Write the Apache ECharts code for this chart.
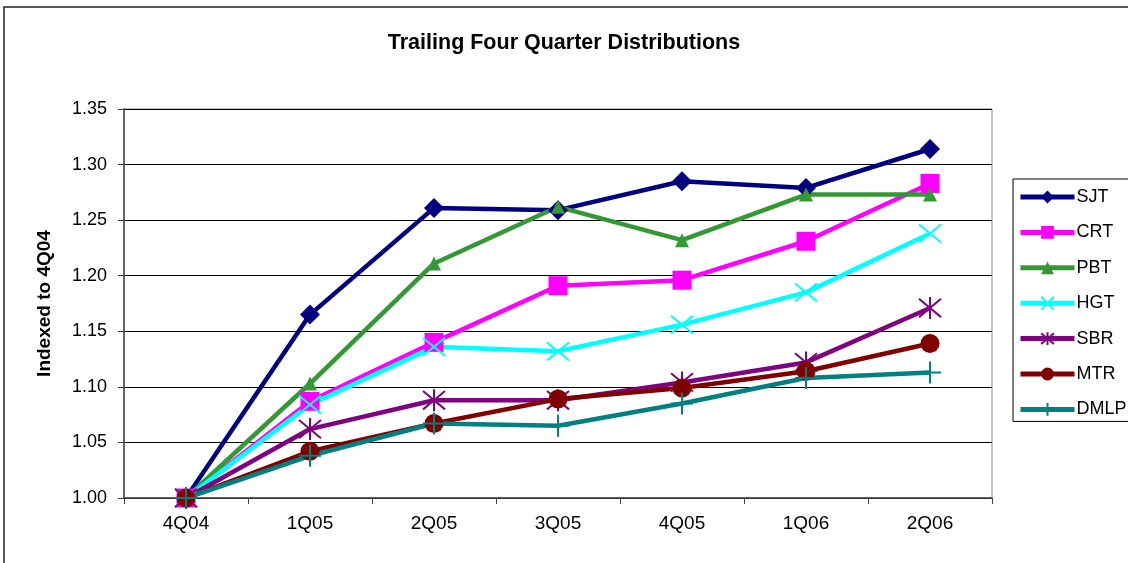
<!DOCTYPE html>
<html>
<head>
<meta charset="utf-8">
<script src="https://cdn.jsdelivr.net/npm/echarts@6/dist/echarts.min.js"></script>
<style>html,body{margin:0;padding:0;background:#fff}#c{width:1128px;height:563px}</style>
</head>
<body>
<div id="c"></div>
<script>
var categories = ['4Q04','1Q05','2Q05','3Q05','4Q05','1Q06','2Q06'];
var SJT  = [1.000, 1.165, 1.261, 1.259, 1.285, 1.279, 1.314];
var CRT  = [1.000, 1.087, 1.140, 1.191, 1.196, 1.231, 1.283];
var PBT  = [1.000, 1.103, 1.211, 1.262, 1.232, 1.273, 1.273];
var HGT  = [1.000, 1.084, 1.136, 1.132, 1.156, 1.185, 1.238];
var SBR  = [1.000, 1.062, 1.088, 1.088, 1.104, 1.122, 1.171];
var MTR  = [1.000, 1.042, 1.067, 1.089, 1.099, 1.114, 1.139];
var DMLP = [1.000, 1.038, 1.067, 1.065, 1.085, 1.108, 1.113];
var yTicks = ['1.00','1.05','1.10','1.15','1.20','1.25','1.30','1.35'];

var FONT = '"Liberation Sans", Arial, sans-serif';
var X_PATH = 'path://M0 0 L24 20 M24 0 L0 20';
var AST_PATH = 'path://M0 2 L24 22 M24 2 L0 22 M12 0 L12 24';
var PLUS_PATH = 'path://M12 0 L12 24 M5 12 L19 12';

function mk(name, data, color, symbol, size, stroke) {
  var s = {
    name: name, type: 'line', data: data,
    symbol: symbol, symbolSize: size,
    lineStyle: {color: color, width: 4.5},
    itemStyle: {color: color},
    emphasis: {disabled: true},
    animation: false
  };
  if (stroke) {
    s.itemStyle = {color: 'rgba(0,0,0,0)', borderColor: color, borderWidth: 2};
  }
  return s;
}

var chart = echarts.init(document.getElementById('c'));
chart.setOption({
  backgroundColor: '#fff',
  animation: false,
  title: {
    text: 'Trailing Four Quarter Distributions',
    left: 'center', top: 27,
    textStyle: {fontFamily: FONT, fontSize: 21.5, fontWeight: 'bold', color: '#000'}
  },
  graphic: [{
    type: 'rect', shape: {x: 4, y: 7, width: 1150, height: 570},
    style: {fill: 'none', stroke: '#222', lineWidth: 1.5}, silent: true, z: -1
  }],
  legend: {
    orient: 'vertical', left: 1013, top: 179,
    padding: [9, 60, 3, 5],
    itemWidth: 54, itemHeight: 16, itemGap: 17.4,
    borderColor: '#000', borderWidth: 1,
    lineStyle: {width: 5},
    textStyle: {fontFamily: FONT, fontSize: 18, color: '#000', padding: [0, 0, 0, -3]},
    data: ['SJT','CRT','PBT','HGT','SBR','MTR','DMLP']
  },
  grid: {left: 124, right: 136, top: 109, bottom: 65, show: true, borderColor: '#888', borderWidth: 1},
  xAxis: {
    type: 'category', data: categories, boundaryGap: true,
    axisLine: {lineStyle: {color: '#444', width: 1.5}},
    axisTick: {show: true, length: 6, lineStyle: {color: '#444'}},
    axisLabel: {fontFamily: FONT, fontSize: 19, color: '#000', margin: 16},
    splitLine: {show: false}
  },
  yAxis: {
    type: 'value', min: 1.0, max: 1.35, interval: 0.05,
    name: 'Indexed to 4Q04', nameLocation: 'middle', nameGap: 70,
    nameTextStyle: {fontFamily: FONT, fontSize: 19, fontWeight: 'bold', color: '#000'},
    axisLine: {show: true, lineStyle: {color: '#444', width: 1.5}},
    axisTick: {show: true, length: 6, lineStyle: {color: '#444'}},
    axisLabel: {fontFamily: FONT, fontSize: 18, color: '#000', margin: 17,
      formatter: function (v) { var i = Math.round((v - 1) / 0.05); return yTicks[i] || v.toFixed(2); }},
    splitLine: {show: true, lineStyle: {color: '#000', width: 1}}
  },
  series: [
    mk('SJT', SJT, '#000080', 'diamond', 20),
    mk('CRT', CRT, '#FF00FF', 'rect', 19),
    mk('PBT', PBT, '#339933', 'triangle', 14),
    mk('HGT', HGT, '#00FFFF', X_PATH, [22, 18], true),
    mk('SBR', SBR, '#800080', AST_PATH, 22, true),
    mk('MTR', MTR, '#800000', 'circle', 19),
    mk('DMLP', DMLP, '#008080', PLUS_PATH, 22, true)
  ]
});
</script>
</body>
</html>
